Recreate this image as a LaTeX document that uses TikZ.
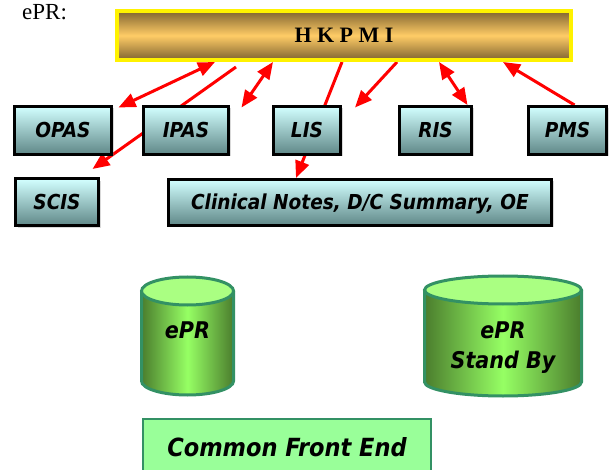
\documentclass[tikz,border=0pt]{standalone}
\usepackage{fontspec}
\setmainfont{Liberation Serif}
\newfontfamily\boxfont{DejaVu Sans Condensed}
\usetikzlibrary{arrows.meta,calc,shadows,backgrounds}
\definecolor{goldmid}{RGB}{255,204,102}
\definecolor{golddark}{RGB}{128,100,48}
\definecolor{boxtop}{RGB}{210,255,255}
\definecolor{boxbot}{RGB}{95,135,135}
\definecolor{cylline}{RGB}{51,145,100}
\definecolor{cyldark}{RGB}{75,125,45}
\definecolor{cyllight}{RGB}{150,255,100}
\definecolor{cyltop}{RGB}{170,255,130}
\definecolor{frontfill}{RGB}{153,255,153}
% database drum: centre x, x radius, top y, bottom y
\newcommand{\dbdrum}[4]{%
  \path[left color=cyldark, right color=cyldark, middle color=cyllight]
    ({#1-#2},#3) -- ({#1-#2},#4) arc[start angle=180, end angle=0, x radius=#2, y radius=14]
    -- ({#1+#2},#3) -- cycle;
  \draw[cylline, line width=3pt] ({#1-#2},#3) -- ({#1-#2},#4)
    arc[start angle=180, end angle=0, x radius=#2, y radius=14] -- ({#1+#2},#3);
  \draw[cylline, line width=3pt, fill=cyltop] (#1,#3) ellipse[x radius=#2, y radius=14];}

\begin{document}
\begin{tikzpicture}[x=1pt,y=-1pt,
    >={Triangle[length=17pt,width=14pt]},
    sysbox/.style={draw=black, line width=3pt, top color=boxtop, bottom color=boxbot,
      minimum height=48pt, inner sep=0pt, text height=15pt, text depth=0pt,
      font=\boxfont\fontsize{20.6}{22}\selectfont\bfseries\itshape,
      drop shadow={shadow xshift=2pt, shadow yshift=-2pt, opacity=0.3}},
    link/.style={red, line width=3pt},
    drumtext/.style={inner sep=0pt, anchor=north, align=center,
      font=\boxfont\fontsize{23}{30}\selectfont\bfseries\itshape}]
  \useasboundingbox (0,0) rectangle (610,470);

  \node[anchor=base west, inner sep=0pt, font=\fontsize{23}{26}\selectfont] (title) at (22,19.5) {ePR:};
  \node[draw=yellow, line width=4pt, top color=golddark, bottom color=golddark,
    middle color=goldmid, minimum width=454pt, minimum height=49pt,
    font=\bfseries\fontsize{22}{24}\selectfont] (hkpmi) at (344,35.5) {H K P M I};

  \node[sysbox, minimum width=97pt] (opas) at (63,130.5) {OPAS};
  \node[sysbox, minimum width=85pt] (ipas) at (186,130.5) {IPAS};
  \node[sysbox, minimum width=67pt] (lis) at (307,130.5) {LIS};
  \node[sysbox, minimum width=72pt] (ris) at (435.5,130.5) {RIS};
  \node[sysbox, minimum width=78pt] (pms) at (567.5,130.5) {PMS};
  \node[sysbox, minimum width=83pt, minimum height=47pt] (scis) at (57,202.5) {SCIS};
  \node[sysbox, minimum width=383pt, minimum height=46pt] (clin) at (360,202.5) {Clinical Notes, D/C Summary, OE};

  \begin{pgfonlayer}{background}
    \draw[link,<->] ($(hkpmi.south west)+(100,0)$) -- ($(opas.north east)+(5.5,2.5)$);
    \draw[link,->] ($(hkpmi.south west)+(121,5)$) -- ($(scis.north east)+(-7.5,-8.5)$);
    \draw[link,<->] ($(hkpmi.south west)+(158,0)$) -- ($(ipas.north east)+(11.5,2.5)$);
    \draw[link,->] ($(hkpmi.south)+(-2,0)$) -- ($(clin.north west)+(129,0)$);
    \draw[link,->] ($(hkpmi.south west)+(282,0)$) -- ($(lis.north east)+(13,2.5)$);
    \draw[link,<->] ($(hkpmi.south west)+(324,0)$) -- ($(ris.north east)+(-5.5,0)$);
    \draw[link,->] ($(pms.north)+(7,0)$) -- ($(hkpmi.south west)+(388,0)$);
  \end{pgfonlayer}

  \dbdrum{187.5}{46}{291}{381}
  \dbdrum{503}{78.5}{290}{382}
  \node[drumtext] (epr) at (187.5,322) {ePR};
  \node[drumtext] (standby) at (503,322) {ePR\\Stand By};

  \node[draw=cylline, line width=2pt, fill=frontfill, minimum width=288pt, minimum height=56pt,
    inner sep=0pt, text height=18pt, text depth=0pt,
    font=\boxfont\fontsize{25}{28}\selectfont\bfseries\itshape] (front) at (287,447) {Common Front End};
\end{tikzpicture}
\end{document}
